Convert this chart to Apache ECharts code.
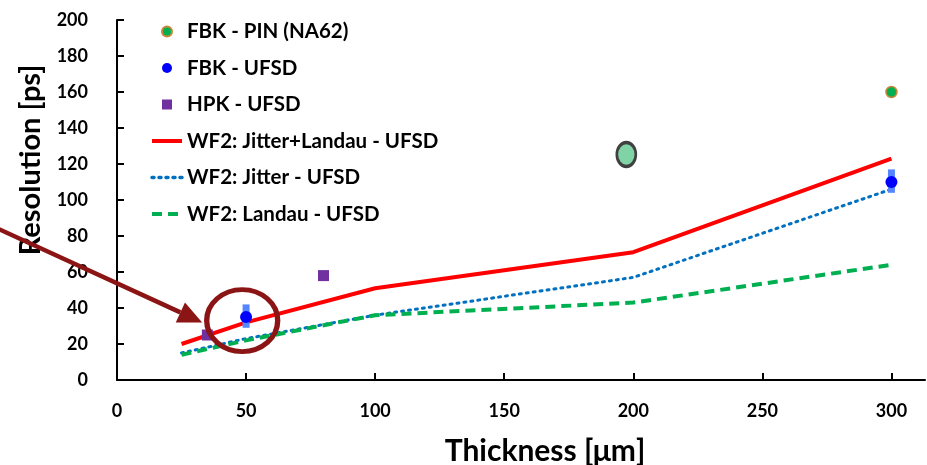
<!DOCTYPE html>
<html>
<head>
<meta charset="utf-8">
<script src="https://cdn.jsdelivr.net/npm/echarts@6/dist/echarts.min.js"></script>
<style>
  html, body { margin: 0; padding: 0; background: #fff; }
  #main { width: 927px; height: 465px; }
</style>
</head>
<body>
<div id="main"></div>
<script>
// measured points
const fbkPin = [[300, 160]];
const fbkUfsd = [[50, 35], [300, 110]];
const fbkErr = [[50, 29, 42], [300, 104, 117]];
const hpkUfsd = [[35, 25], [80, 58]];
// WF2 simulation curves
const jitterLandau = [[25, 20], [50, 32], [100, 51], [200, 71], [300, 123]];
const jitterOnly = [[25, 15], [50, 23], [100, 36], [200, 57], [300, 106]];
const landauOnly = [[25, 14], [50, 22], [100, 36], [200, 43], [300, 64]];
// annotations drawn on the slide
const greenBlob = [[197.3, 125.3]];
const redRing = [[48.5, 33]];
const arrowFrom = [-46, 84];
const arrowTo = [33, 32];

const font = 'Lato';
const hidden = { opacity: 0 };

let chart = echarts.init(document.getElementById('main'));

let option = {
  animation: false,
  textStyle: { fontFamily: font, fontWeight: 'bold', color: '#000' },
  grid: { left: 117, right: 2, top: 20, bottom: 85, outerBoundsMode: 'none', containLabel: false },
  legend: {
    orient: 'vertical',
    left: 145,
    top: 16,
    itemWidth: 30,
    itemHeight: 10,
    itemGap: 15.5,
    textStyle: { fontFamily: font, fontWeight: 'bold', fontSize: 20.5, color: '#000' },
    data: [
      { name: 'FBK - PIN (NA62)', icon: 'circle' },
      { name: 'FBK - UFSD', icon: 'circle' },
      { name: 'HPK - UFSD', icon: 'path://M0,0L10,0L10,10L0,10Z' },
      { name: 'WF2: Jitter+Landau - UFSD', itemStyle: hidden, lineStyle: { width: 4 } },
      { name: 'WF2: Jitter - UFSD', itemStyle: hidden, lineStyle: { width: 3.5 } },
      { name: 'WF2: Landau - UFSD', itemStyle: hidden, lineStyle: { width: 4 } }
    ]
  },
  xAxis: {
    type: 'value',
    min: 0,
    max: 313,
    interval: 50,
    name: 'Thickness [\u03bcm]',
    nameLocation: 'middle',
    nameGap: 56,
    nameTextStyle: { fontFamily: font, fontWeight: 'bold', fontSize: 30, color: '#000',
      padding: [0, 0, 0, 48] },
    axisLine: { lineStyle: { color: '#000', width: 2 } },
    axisTick: { inside: true, length: 7, lineStyle: { color: '#000', width: 2 } },
    axisLabel: { fontSize: 18, margin: 22, color: '#000', showMaxLabel: false,
      formatter: v => (v % 50 === 0 ? v : '') },
    splitLine: { show: false }
  },
  yAxis: {
    type: 'value',
    min: 0,
    max: 200,
    interval: 20,
    name: 'Resolution [ps]',
    nameLocation: 'middle',
    nameGap: 72,
    nameTextStyle: { fontFamily: font, fontWeight: 'bold', fontSize: 29, color: '#000',
      padding: [0, 0, 0, 80] },
    axisLine: { show: true, lineStyle: { color: '#000', width: 2 } },
    axisTick: { show: true, inside: true, length: 7, lineStyle: { color: '#000', width: 2 } },
    axisLabel: { fontSize: 18, margin: 29, color: '#000' },
    splitLine: { show: false }
  },
  series: [
    {
      name: 'WF2: Jitter+Landau - UFSD', type: 'line', data: jitterLandau,
      symbol: 'none', lineStyle: { color: '#ff0000', width: 4 },
      itemStyle: { color: '#ff0000' }, z: 3
    },
    {
      name: 'WF2: Jitter - UFSD', type: 'line', data: jitterOnly,
      symbol: 'none', lineStyle: { color: '#0070c0', width: 3, type: [2, 5], cap: 'round' },
      itemStyle: { color: '#0070c0' }, z: 3
    },
    {
      name: 'WF2: Landau - UFSD', type: 'line', data: landauOnly,
      symbol: 'none', lineStyle: { color: '#00b050', width: 4, type: [10, 6] },
      itemStyle: { color: '#00b050' }, z: 3
    },
    {
      name: 'FBK error', type: 'custom', data: fbkErr, z: 4,
      renderItem: (params, api) => {
        const top = api.coord([api.value(0), api.value(2)]);
        const bot = api.coord([api.value(0), api.value(1)]);
        return {
          type: 'rect',
          shape: { x: top[0] - 3.5, y: top[1], width: 7, height: bot[1] - top[1] },
          style: { fill: '#5586ff', opacity: 1 }
        };
      }
    },
    {
      name: 'FBK - PIN (NA62)', type: 'scatter', data: fbkPin, symbol: 'circle', symbolSize: 11,
      itemStyle: { color: '#00b050', borderColor: '#c8883c', borderWidth: 1.5, opacity: 1 }, z: 5
    },
    {
      name: 'FBK - UFSD', type: 'scatter', data: fbkUfsd, symbol: 'circle', symbolSize: 12,
      itemStyle: { color: '#0000ff', opacity: 1 }, z: 5
    },
    {
      name: 'HPK - UFSD', type: 'scatter', data: hpkUfsd, symbol: 'rect', symbolSize: 11,
      itemStyle: { color: '#7030a0', opacity: 1 }, z: 5
    },
    {
      name: 'blob', type: 'scatter', data: greenBlob, symbol: 'circle', symbolSize: [19, 24],
      itemStyle: { color: '#7fd3a5', borderColor: '#404040', borderWidth: 3, opacity: 1 },
      z: 5, silent: true
    },
    {
      name: 'ring', type: 'scatter', data: redRing, symbol: 'circle', symbolSize: [71, 62],
      itemStyle: { color: 'rgba(0,0,0,0)', borderColor: '#8b1414', borderWidth: 5, opacity: 1 },
      z: 6, silent: true
    }
  ]
};

chart.setOption(option);

// arrow pointing at the ring
const p0 = chart.convertToPixel({ gridIndex: 0 }, arrowFrom);
const p1 = chart.convertToPixel({ gridIndex: 0 }, arrowTo);
const ang = Math.atan2(p1[1] - p0[1], p1[0] - p0[0]);
const headLen = 24, headW = 11;
const bx = p1[0] - headLen * Math.cos(ang), by = p1[1] - headLen * Math.sin(ang);
const nx = -Math.sin(ang), ny = Math.cos(ang);
chart.setOption({
  graphic: [
    {
      type: 'line', z: 100,
      shape: { x1: p0[0], y1: p0[1], x2: bx, y2: by },
      style: { stroke: '#8b1414', lineWidth: 4.5 }
    },
    {
      type: 'polygon', z: 100,
      shape: { points: [[p1[0], p1[1]], [bx + nx * headW, by + ny * headW], [bx - nx * headW, by - ny * headW]] },
      style: { fill: '#8b1414' }
    }
  ]
});
</script>
</body>
</html>
